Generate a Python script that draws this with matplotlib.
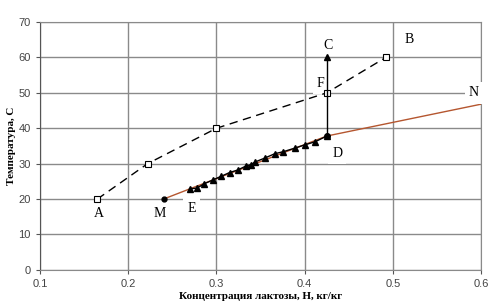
import matplotlib.pyplot as plt

# curve A-B (dashed, open squares)
ab_x = [0.165, 0.222, 0.300, 0.425, 0.492]
ab_y = [20, 30, 40, 50, 60]

# process points E-D (triangles)
ed_x = [0.270, 0.278, 0.286, 0.296, 0.305, 0.315, 0.324, 0.334, 0.339, 0.344,
        0.355, 0.366, 0.376, 0.389, 0.400, 0.412, 0.425]
ed_y = [22.9, 23.1, 24.3, 25.4, 26.4, 27.5, 28.2, 29.4, 29.7, 30.5,
        31.6, 32.8, 33.4, 34.4, 35.3, 36.2, 37.8]

# line M-N
mn_x = [0.240, 0.270, 0.425, 0.600]
mn_y = [20.0, 22.9, 37.8, 46.8]

# vertical D-C
dc_x = [0.425, 0.425]
dc_y = [37.8, 60]

labels = ["A", "B", "C", "D", "E", "F", "M", "N"]
label_x = [0.167, 0.518, 0.427, 0.437, 0.272, 0.418, 0.236, 0.592]
label_y = [15.8, 65.0, 63.5, 33.0, 17.3, 52.6, 16.0, 50.0]

xticks = [0.1, 0.2, 0.3, 0.4, 0.5, 0.6]
xtick_labels = ['0.1', '0.2', '0.3', '0.4', '0.5', '0.6']

plt.rcParams['font.family'] = ['Liberation Sans', 'DejaVu Sans']
fig = plt.figure(figsize=(5.03, 3.06), dpi=100)
ax = fig.add_axes([0.0795, 0.118, 0.877, 0.81])

ax.plot(mn_x, mn_y, color='#b5562f', lw=1, zorder=3)
ax.plot(ed_x, ed_y, color='black', lw=1, marker='^', ms=5, zorder=4)
ax.plot(ab_x, ab_y, color='black', lw=1, ls=(0, (6, 4)), marker='s', ms=4.5,
        mfc='white', mec='black', mew=0.8, zorder=4)
ax.plot(dc_x, dc_y, color='black', lw=1, zorder=4)
ax.plot(dc_x[1], dc_y[1], marker='^', ms=5, color='black', zorder=5)
ax.plot(dc_x[0], dc_y[0], marker='o', ms=4, color='black', zorder=5)
ax.plot(mn_x[0], mn_y[0], marker='o', ms=3.5, color='black', zorder=5)

for t, x, y in zip(labels, label_x, label_y):
    ax.text(x, y, t, ha='center', va='center', fontsize=10, family='Liberation Serif',
            bbox=dict(facecolor='white', edgecolor='none', pad=3), zorder=3.5)

ax.set_xlim(0.1, 0.6)
ax.set_ylim(0, 70)
ax.set_xticks(xticks)
ax.set_xticklabels(xtick_labels)
ax.set_yticks(range(0, 71, 10))
ax.grid(True, color='#8a8a8a', lw=1)
ax.set_axisbelow(True)
for s in ax.spines.values():
    s.set_color('#8a8a8a')
ax.spines['left'].set_color('#555555')
ax.tick_params(labelsize=8, colors='#555555', length=3, labelcolor='#444444')

ax.set_xlabel('Концентрация лактозы, Н, кг/кг', fontsize=8, fontweight='bold',
              family='Liberation Serif', labelpad=2)
ax.set_ylabel('Температура, С', fontsize=8, fontweight='bold',
              family='Liberation Serif', labelpad=2)

fig.savefig('out.png', dpi=100)
